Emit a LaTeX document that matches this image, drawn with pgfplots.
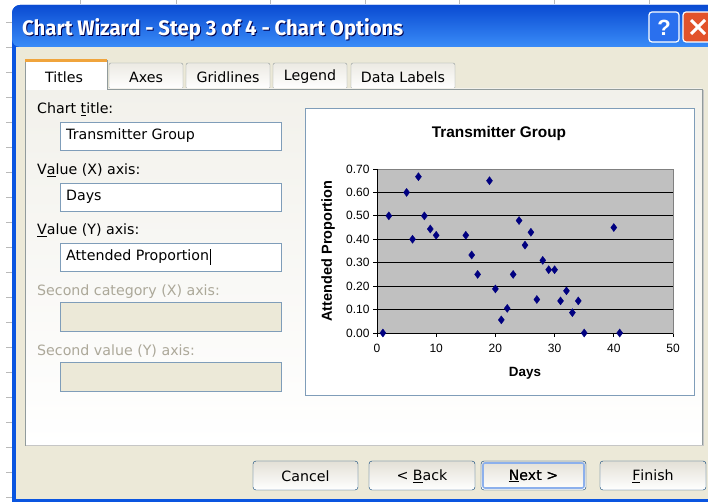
\documentclass[border=0pt]{standalone}
\usepackage{fontspec}
\setmainfont{DejaVu Sans}
\newfontfamily\arialf{Liberation Sans}
\newfontfamily\titlef{Fira Sans}
\usepackage{pgfplots}
\pgfplotsset{compat=1.18}
\definecolor{xpbody}{HTML}{ECE9D8}
\definecolor{xpblue}{HTML}{0A55E0}
\definecolor{xpbluelight}{HTML}{3A8CF8}
\definecolor{xpbluedark}{HTML}{0A4BD2}
\definecolor{tabborder}{HTML}{919B9C}
\definecolor{boxborder}{HTML}{7F9DB9}
\definecolor{disabledtxt}{HTML}{ACA899}
\definecolor{btnborder}{HTML}{003C74}
\definecolor{btnbottom}{HTML}{E3E0D6}
\definecolor{nextring}{HTML}{8CB0EC}
\definecolor{panelbottom}{HTML}{F2F1EB}
\definecolor{tabbottom}{HTML}{ECEAE3}
\definecolor{orangetab}{HTML}{F0A43C}
\definecolor{closered}{HTML}{E2532B}
\definecolor{helpblue}{HTML}{2A70EE}
\definecolor{plotgray}{HTML}{C0C0C0}
\definecolor{plotborder}{HTML}{808080}
\definecolor{navy}{HTML}{000080}
\pgfplotstableread{
x y
1 0
2 0.5
5 0.6
6 0.4
7 0.667
8 0.5
9 0.444
10 0.417
15 0.417
16 0.333
17 0.25
19 0.65
20 0.188
21 0.056
22 0.105
23 0.25
24 0.48
25 0.375
26 0.43
27 0.143
28 0.31
29 0.27
30 0.27
31 0.137
32 0.18
33 0.087
34 0.137
35 0
40 0.45
41 0
}\datatable
\newcommand{\dlg}{\fontsize{14.2}{16}\selectfont}
\begin{document}
\begin{tikzpicture}[x=1pt,y=1pt]
\useasboundingbox (0,0) rectangle (708,502);
\clip (0,0) rectangle (708,502);
\fill[white] (0,0) rectangle (708,502);
\begin{scope}[shift={(0,502)},yscale=-1]
  % background sheet ticks
  \foreach \yy in {23,48,...,498} \draw[gray!55, line width=1pt] (6,\yy)--(12,\yy);
  \foreach \xx in {80,176,270,365,459,554,649} \draw[gray!55, line width=1pt] (\xx,0)--(\xx,4);
  % window frame
  \fill[xpblue, rounded corners=8] (12,5) rectangle (760,540);
  \shade[top color=xpbluedark, bottom color=xpbluelight, rounded corners=8] (12,5) rectangle (760,47);
  \fill[xpbody] (16,47) rectangle (760,499);
  % title
  \node[anchor=west, text=black!70!blue, font=\titlef\bfseries\fontsize{21}{24}\selectfont, inner sep=0pt] at (23,30) {\scalebox{0.97}[1]{Chart Wizard - Step 3 of 4 - Chart Options}};
  \node[anchor=west, text=white, font=\titlef\bfseries\fontsize{21}{24}\selectfont, inner sep=0pt] at (22,29) {\scalebox{0.97}[1]{Chart Wizard - Step 3 of 4 - Chart Options}};
  % help and close buttons
  \draw[white, line width=1.2pt, fill=helpblue, rounded corners=3] (649,12) rectangle (679,42);
  \node[text=white, font=\arialf\bfseries\fontsize{22}{22}\selectfont] at (664,28) {?};
  \draw[white, line width=1.2pt, fill=closered, rounded corners=3] (683,12) rectangle (713,42);
  \draw[white, line width=3pt] (691,20)--(705,34) (705,20)--(691,34);
  % tabs (inactive)
  \foreach \a/\b/\t in {109/183/Axes, 186/270/Gridlines, 273/347/Legend, 351/455/Data Labels}{
    \shade[top color=tabbottom, bottom color=white, draw=tabborder, rounded corners=2] (\a,63) rectangle (\b,89);
    \node[font=\dlg] at ({(\a+\b)/2},77) {\t};
  }
  % panel
  \shade[top color=panelbottom, bottom color=white, draw=tabborder] (25,89) rectangle (702,445);
  \draw[gray!45, line width=1pt] (26,446)--(703,446)--(703,90);
  % active tab
  \fill[white!97!blue!2] (25,60) rectangle (107,90);
  \draw[tabborder] (25,90)--(25,60)--(107,60)--(107,89);
  \fill[orangetab] (25,59) rectangle (107,62);
  \node[font=\dlg] at (64,77) {Titles};
  % labels and boxes
  \node[anchor=west, font=\dlg, inner sep=0pt] at (37,109) {Chart \underline{t}itle:};
  \draw[boxborder, fill=white] (60.5,122) rectangle (281,150);
  \node[anchor=west, font=\dlg, inner sep=0pt] at (66,136) {Transmitter Group};
  \node[anchor=west, font=\dlg, inner sep=0pt] at (37,170) {V\underline{a}lue (X) axis:};
  \draw[boxborder, fill=white] (60.5,183) rectangle (281,211);
  \node[anchor=west, font=\dlg, inner sep=0pt] at (66,197) {Days};
  \node[anchor=west, font=\dlg, inner sep=0pt] at (37,230) {\underline{V}alue (Y) axis:};
  \draw[boxborder, fill=white] (60.5,243) rectangle (281,271);
  \node[anchor=west, font=\dlg, inner sep=0pt] at (66,257) {Attended Proportion\hspace{0.5pt}\rule[-4pt]{0.8pt}{16pt}};
  \node[anchor=west, font=\dlg, inner sep=0pt, text=disabledtxt] at (37,292) {Second category (X) axis:};
  \draw[boxborder, fill=xpbody] (60.5,302) rectangle (281,331);
  \node[anchor=west, font=\dlg, inner sep=0pt, text=disabledtxt] at (37,351) {Second value (Y) axis:};
  \draw[boxborder, fill=xpbody] (60.5,362) rectangle (281,391);
  % preview box
  \draw[boxborder, fill=white] (305,108) rectangle (694,395);
  % buttons
  \foreach \a/\b/\t in {253/358/Cancel, 369/475/{< \underline{B}ack}, 481/586/{\underline{N}ext >}, 600/706/{\underline{F}inish}}{
    \shade[top color=btnbottom, bottom color=white, draw=btnborder, rounded corners=3] (\a,461) rectangle (\b,490);
    \node[font=\dlg] at ({(\a+\b)/2},476) {\t};
  }
  \draw[nextring, line width=1.6pt, rounded corners=2] (483,463) rectangle (584,488);
  \node[font=\dlg] at (533.5,476) {\underline{N}ext >};
\end{scope}
\begin{axis}[
  at={(377pt,169pt)}, anchor=south west,
  scale only axis, width=296pt, height=164pt,
  xmin=0, xmax=50, ymin=0, ymax=0.7,
  xtick={0,10,20,30,40,50},
  ytick={0,0.1,0.2,0.3,0.4,0.5,0.6,0.7},
  tick pos=left, tick align=outside, major tick length=4pt,
  axis background/.style={fill=plotgray},
  axis line style={draw=plotborder, line width=0.8pt},
  ymajorgrids, major grid style={black, line width=0.9pt},
  tick style={black, line width=0.8pt},
  ticklabel style={font=\arialf\fontsize{12}{12}\selectfont},
  /pgf/number format/assume math mode=true,
  yticklabel style={/pgf/number format/.cd, fixed, fixed zerofill, precision=2},
  xticklabel style={yshift=-4pt, /pgf/number format/.cd, fixed, precision=0},
  clip=false,
  title={Transmitter Group},
  title style={font=\arialf\bfseries\fontsize{15.4}{16}\selectfont, at={(axis description cs:0.412,1.177)}, anchor=center},
  xlabel={Days},
  xlabel style={font=\arialf\bfseries\fontsize{13.4}{14}\selectfont, at={(axis description cs:0.5,-0.245)}, anchor=center},
  ylabel={Attended Proportion},
  ylabel style={font=\arialf\bfseries\fontsize{14.5}{15}\selectfont, at={(axis description cs:-0.1655,0.5)}, anchor=center},
]
\addplot[only marks, mark=diamond*, mark size=4pt, color=navy] table[x=x,y=y] {\datatable};
\draw[plotborder, line width=0.8pt] (rel axis cs:0,1)--(rel axis cs:1,1)--(rel axis cs:1,0);
\draw[black, line width=0.9pt] (rel axis cs:0,1)--(rel axis cs:0,0)--(rel axis cs:1,0);
\end{axis}
\end{tikzpicture}
\end{document}
